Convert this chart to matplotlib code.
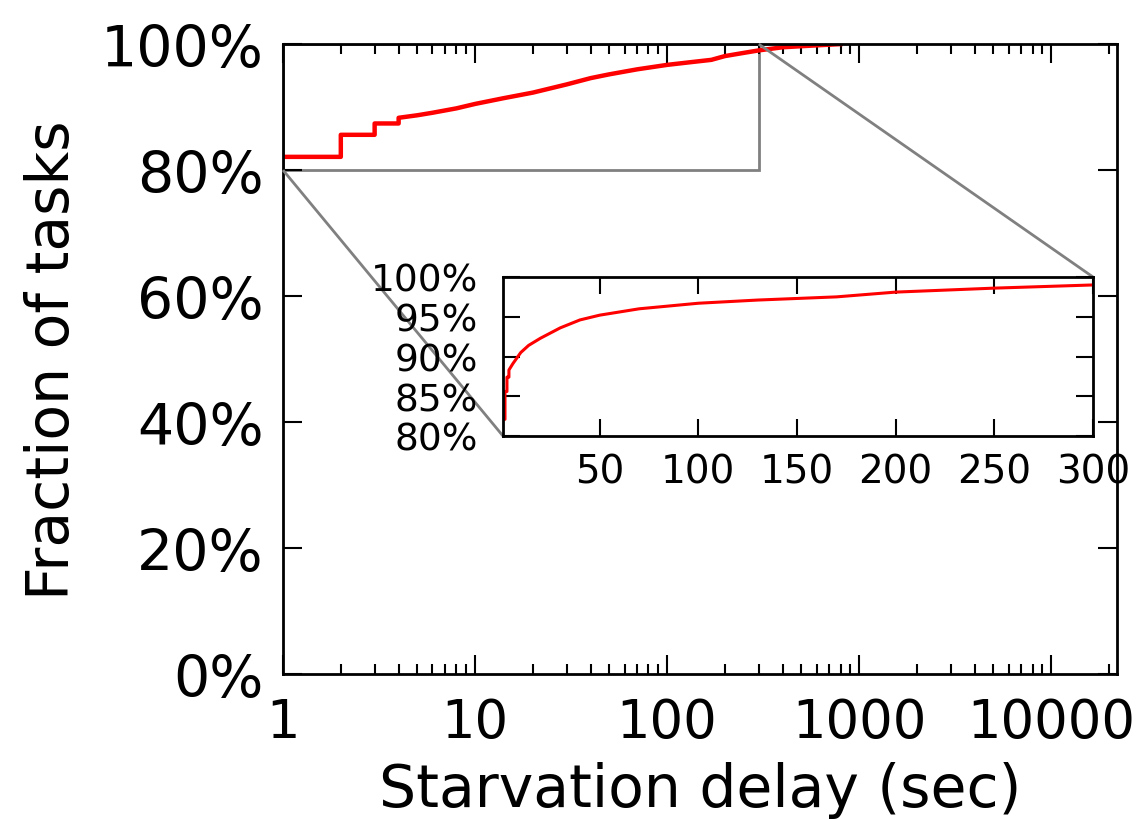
import numpy as np
import matplotlib
matplotlib.use('Agg')
import matplotlib.pyplot as plt
from matplotlib.ticker import PercentFormatter, FixedLocator, FuncFormatter, LogLocator, NullFormatter
from mpl_toolkits.axes_grid1.inset_locator import mark_inset

# starvation delay CDF (seconds, % of tasks)
delay = [1, 2, 3, 4, 5, 6, 8, 10, 14, 20, 30, 40, 50, 70, 100, 130, 170,
         200, 250, 300, 400, 600, 800]
frac = [82.1, 85.6, 87.4, 88.3, 88.7, 89.1, 89.8, 90.5, 91.4, 92.3, 93.6, 94.6,
        95.2, 96.0, 96.7, 97.1, 97.5, 98.1, 98.6, 99.0, 99.5, 99.8, 100.0]
n_steps = 4  # integer-second jumps that show as steps on the log axis

main_yticks = [0, 20, 40, 60, 80, 100]
main_xticks = [1, 10, 100, 1000, 10000]
inset_xticks = [50, 100, 150, 200, 250, 300]
inset_yticks = [80, 85, 90, 95, 100]

# build step vertices for the first few points, straight segments afterwards
xs, ys = [delay[0]], [frac[0]]
for i in range(1, len(delay)):
    if i < n_steps:
        xs += [delay[i], delay[i]]
        ys += [frac[i - 1], frac[i]]
    else:
        xs.append(delay[i])
        ys.append(frac[i])
xs = np.array(xs, dtype=float)
ys = np.array(ys)

fig = plt.figure(figsize=(11.37, 8.2), dpi=100)
ax = fig.add_axes([0.2489, 0.1768, 0.9824 - 0.2489, 0.945 - 0.1768])

ax.plot(xs, ys, color='red', lw=3.2)
ax.set_xscale('log')
ax.set_xlim(1, 22000)
ax.set_ylim(0, 100)
ax.yaxis.set_major_locator(FixedLocator(main_yticks))
ax.yaxis.set_major_formatter(PercentFormatter(decimals=0))
ax.xaxis.set_major_locator(FixedLocator(main_xticks))
ax.xaxis.set_major_formatter(FuncFormatter(lambda v, p: '%d' % v))
ax.xaxis.set_minor_locator(LogLocator(base=10, subs=np.arange(2, 10)))
ax.xaxis.set_minor_formatter(NullFormatter())
ax.tick_params(which='both', direction='in', top=True, right=True, width=1.5)
ax.tick_params(which='major', length=14)
ax.tick_params(which='minor', length=7)
ax.tick_params(axis='y', pad=14, labelsize=41)
ax.tick_params(axis='x', pad=16, labelsize=38)
for s in ax.spines.values():
    s.set_linewidth(2)
ax.set_xlabel('Starvation delay (sec)', fontsize=42, labelpad=9)
ax.set_ylabel('Fraction of tasks', fontsize=42, labelpad=14)

# zoomed view of the first 300 seconds
axins = fig.add_axes([503 / 1137, (820 - 437) / 820, 590 / 1137, 159 / 820])
axins.plot(xs, ys, color='red', lw=2.2)
axins.set_xlim(1, 300)
axins.set_ylim(80, 100)
axins.xaxis.set_major_locator(FixedLocator(inset_xticks))
axins.yaxis.set_major_locator(FixedLocator(inset_yticks))
axins.yaxis.set_major_formatter(PercentFormatter(decimals=0))
axins.tick_params(direction='in', top=True, right=True, labelsize=27,
                  length=12, width=1.5)
axins.tick_params(axis='y', pad=18)
axins.tick_params(axis='x', pad=12, labelsize=28)
for s in axins.spines.values():
    s.set_linewidth(2)

mark_inset(ax, axins, loc1=1, loc2=3, fc='none', ec='0.5', lw=2)

fig.savefig('out.png', dpi=100)
